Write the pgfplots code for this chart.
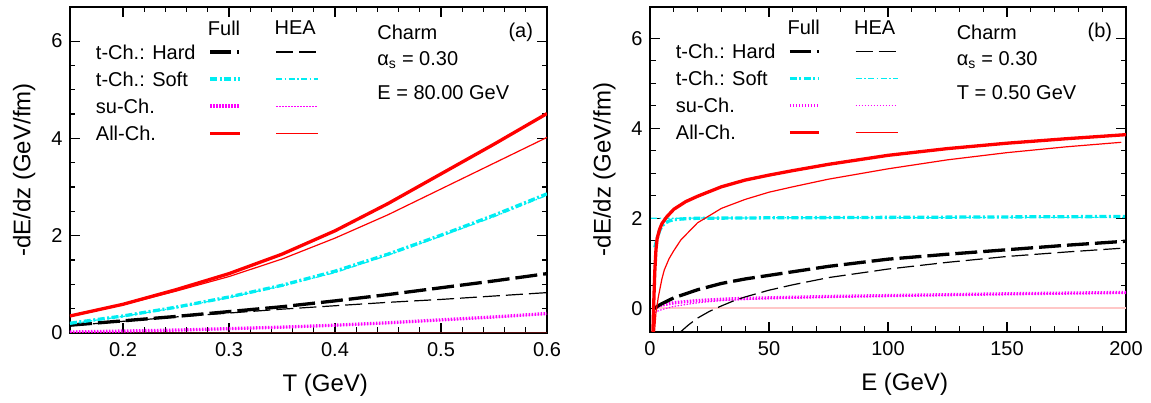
\documentclass[border=0pt]{standalone}
\usepackage{fontspec}
\setmainfont{Liberation Sans}
\usepackage{pgfplots}
\pgfplotsset{compat=1.18}
\definecolor{myred}{rgb}{1,0,0}
\definecolor{mycyan}{rgb}{0,0.93,0.95}
\definecolor{mymag}{rgb}{1,0,1}
\definecolor{zeroa}{rgb}{0.35,0.05,0.05}
\definecolor{zerob}{rgb}{1,0.78,0.78}
\tikzset{
  fullhard/.style={black, line width=3.3pt, dash pattern=on 22pt off 6pt},
  fullhardleg/.style={black, line width=3.3pt, dash pattern=on 21pt off 6pt on 2pt off 6pt},
  heahard/.style={black, line width=1.2pt, dash pattern=on 17pt off 6pt},
  fullsoft/.style={mycyan, line width=3.3pt, dash pattern=on 7pt off 2.5pt on 2pt off 2.5pt},
  heasoft/.style={mycyan, line width=1.2pt, dash pattern=on 6pt off 2.5pt on 1.5pt off 2.5pt},
  fullsu/.style={mymag, line width=3.3pt, dash pattern=on 1.5pt off 1.5pt},
  heasu/.style={mymag, line width=1.2pt, dash pattern=on 1.5pt off 1.5pt},
  fullall/.style={myred, line width=3.3pt},
  heaall/.style={myred, line width=1.2pt},
}
\pgfplotsset{
  mystyle/.style={
    scale only axis,
    axis line style={line width=1.4pt},
    every tick/.style={black,line width=1.1pt},
    major tick length=10pt, minor tick length=5.5pt,
    tick align=inside,
    ticklabel style={font=\fontsize{20}{24}\selectfont},
    xticklabel style={yshift=-6pt},
    yticklabel style={xshift=-4pt},
    label style={font=\fontsize{24}{28}\selectfont},
    /pgf/number format/assume math mode=true,
    ymax=6.7, ytick={0,2,4,6}, minor y tick num=3, minor x tick num=4,
    ylabel={-dE/dz (GeV/fm)},
    ylabel style={at={(axis description cs:-0.096,0.5)}, anchor=center},
    xlabel style={at={(axis description cs:0.535,-0.16)}, anchor=center},
  },
}
\newcommand{\legendblock}[2]{%
  \def\lf{\fontsize{20}{24}\selectfont}%
  \node[font=\lf, anchor=center] at (axis description cs:0.323,0.936) {Full};
  \node[font=\lf, anchor=center] at (axis description cs:0.472,0.936) {HEA};
  \node[font=\lf, anchor=west, inner sep=0pt] at (axis description cs:0.054,0.862) {t-Ch.: Hard};
  \node[font=\lf, anchor=west, inner sep=0pt] at (axis description cs:0.054,0.779) {t-Ch.: Soft};
  \node[font=\lf, anchor=west, inner sep=0pt] at (axis description cs:0.054,0.696) {su-Ch.};
  \node[font=\lf, anchor=west, inner sep=0pt] at (axis description cs:0.054,0.613) {All-Ch.};
  \draw[fullhardleg] (axis description cs:0.294,0.862) -- (axis description cs:0.356,0.862);
  \draw[heahard] (axis description cs:0.432,0.862) -- (axis description cs:0.520,0.862);
  \draw[fullsoft] (axis description cs:0.294,0.779) -- (axis description cs:0.356,0.779);
  \draw[heasoft] (axis description cs:0.432,0.779) -- (axis description cs:0.520,0.779);
  \draw[fullsu] (axis description cs:0.294,0.696) -- (axis description cs:0.356,0.696);
  \draw[heasu] (axis description cs:0.432,0.696) -- (axis description cs:0.520,0.696);
  \draw[fullall] (axis description cs:0.294,0.613) -- (axis description cs:0.356,0.613);
  \draw[heaall] (axis description cs:0.432,0.613) -- (axis description cs:0.520,0.613);
  \node[font=\lf, anchor=west, inner sep=0pt] at (axis description cs:0.644,0.923) {Charm};
  \node[font=\lf, anchor=west, inner sep=0pt] at (axis description cs:0.644,0.837) {α\textsubscript{s} = 0.30};
  \node[font=\lf, anchor=west, inner sep=0pt] at (axis description cs:0.644,0.736) {#2};
  \node[font=\lf, anchor=center, inner sep=0pt] at (axis description cs:0.945,0.923) {#1};
}
\begin{document}
\begin{tikzpicture}
\path[use as bounding box] (-70pt,-70pt) rectangle (1081pt,333pt);
% ---------------- panel (a)
\begin{axis}[mystyle, at={(0pt,0pt)}, anchor=south west,
  width=477pt, height=326pt,
  xmin=0.15, xmax=0.6, ymin=0,
  xtick={0.2,0.3,0.4,0.5,0.6},
  xticklabels={0.2,0.3,0.4,0.5,0.6},
  xlabel={T (GeV)}]
\addplot[draw=zeroa, line width=1.6pt] coordinates {(0.15,0) (0.6,0)};
\addplot[heasu] coordinates {(0.15,0.02)(0.2,0.035)(0.25,0.055)(0.3,0.085)(0.35,0.115)(0.4,0.155)(0.45,0.2)(0.5,0.26)(0.55,0.32)(0.6,0.39)};
\addplot[fullsu] coordinates {(0.15,0.02)(0.2,0.04)(0.25,0.06)(0.3,0.09)(0.35,0.12)(0.4,0.16)(0.45,0.21)(0.5,0.27)(0.55,0.33)(0.6,0.40)};
\addplot[heahard] coordinates {(0.15,0.15)(0.2,0.24)(0.25,0.33)(0.3,0.41)(0.35,0.49)(0.4,0.56)(0.45,0.63)(0.5,0.69)(0.55,0.76)(0.6,0.83)};
\addplot[fullhard] coordinates {(0.15,0.16)(0.2,0.25)(0.25,0.34)(0.3,0.44)(0.35,0.54)(0.4,0.66)(0.45,0.79)(0.5,0.93)(0.55,1.07)(0.6,1.22)};
\addplot[heasoft] coordinates {(0.15,0.19)(0.2,0.34)(0.25,0.52)(0.3,0.73)(0.35,0.97)(0.4,1.24)(0.45,1.60)(0.5,1.99)(0.55,2.39)(0.6,2.83)};
\addplot[fullsoft] coordinates {(0.15,0.20)(0.2,0.35)(0.25,0.53)(0.3,0.74)(0.35,0.98)(0.4,1.27)(0.45,1.62)(0.5,2.01)(0.55,2.42)(0.6,2.86)};
\addplot[heaall] coordinates {(0.15,0.34)(0.2,0.58)(0.25,0.86)(0.3,1.16)(0.35,1.52)(0.4,1.95)(0.45,2.43)(0.5,2.96)(0.55,3.49)(0.6,4.02)};
\addplot[fullall] coordinates {(0.15,0.35)(0.2,0.59)(0.25,0.89)(0.3,1.22)(0.35,1.62)(0.4,2.10)(0.45,2.66)(0.5,3.27)(0.55,3.88)(0.6,4.51)};
\legendblock{(a)}{E = 80.00 GeV}
\end{axis}
% ---------------- panel (b)
\begin{axis}[mystyle, at={(580pt,1pt)}, anchor=south west,
  width=476pt, height=325pt,
  xmin=0, xmax=200, ymin=-0.53,
  xtick={0,50,100,150,200},
  xlabel={E (GeV)}]
\addplot[draw=zerob, line width=1.5pt] coordinates {(2,0) (200,0)};
\addplot[heasu] coordinates {(2,-0.1)(3,-0.07)(5,-0.03)(10,0.04)(20,0.12)(30,0.17)(50,0.22)(100,0.27)(150,0.31)(200,0.34)};
\addplot[fullsu] coordinates {(2,0.0)(3,0.03)(5,0.07)(10,0.12)(20,0.17)(35,0.21)(50,0.23)(75,0.26)(100,0.28)(150,0.32)(200,0.35)};
\addplot[heahard] coordinates {(12.5,-0.54)(13,-0.52)(16,-0.38)(20,-0.22)(25,-0.07)(30,0.05)(35,0.16)(40,0.25)(50,0.40)(60,0.52)(75,0.68)(100,0.87)(125,1.02)(150,1.15)(175,1.25)(200,1.34)};
\addplot[fullhard] coordinates {(2,-0.02)(3,0.04)(5,0.10)(10,0.23)(15,0.32)(20,0.41)(30,0.55)(40,0.65)(50,0.73)(60,0.81)(75,0.93)(100,1.09)(125,1.20)(150,1.30)(175,1.40)(200,1.49)};
\addplot[heasoft] coordinates {(0.5,2.0)(50,2.01)(100,2.01)(150,2.02)(200,2.02)};
\addplot[fullsoft] coordinates {(2,1.35)(3,1.55)(4,1.72)(5,1.82)(6,1.88)(8,1.94)(10,1.97)(15,1.99)(20,2.0)(50,2.01)(100,2.02)(150,2.03)(200,2.04)};
\addplot[heaall] coordinates {(1.8,-0.6)(2.5,-0.1)(3.5,0.25)(5,0.65)(6,0.85)(8,1.1)(10,1.28)(13,1.52)(20,1.90)(30,2.22)(40,2.42)(50,2.58)(60,2.70)(75,2.87)(100,3.10)(125,3.30)(150,3.46)(175,3.59)(198,3.69)};
\addplot[fullall] coordinates {(1.2,-0.6)(1.5,0.0)(2,0.8)(2.5,1.3)(3,1.55)(4,1.75)(5,1.88)(7,2.03)(10,2.2)(15,2.37)(20,2.49)(30,2.70)(40,2.85)(50,2.96)(60,3.06)(75,3.2)(100,3.40)(125,3.55)(150,3.67)(175,3.77)(200,3.86)};
\legendblock{(b)}{T = 0.50 GeV}
\end{axis}
\end{tikzpicture}
\end{document}
